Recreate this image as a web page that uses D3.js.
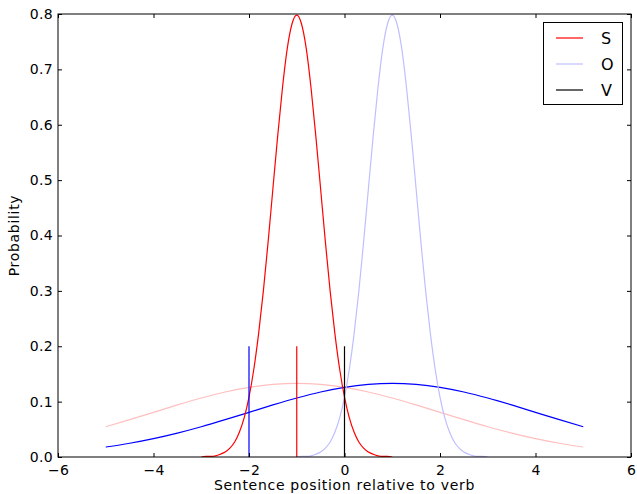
<!DOCTYPE html>
<html>
<head>
<meta charset="utf-8">
<script src="https://cdn.jsdelivr.net/npm/d3@7"></script>
<style>
  body { margin: 0; background: #fff; }
  text { font-family: "DejaVu Sans", sans-serif; fill: #000; }
</style>
</head>
<body>
<script>
// narrow curves (sampled every 0.1 around their peak)
const narrowS_x = d3.range(41).map(i => -3 + i * 0.1);
const narrowS_y = [0.000, 0.001, 0.001, 0.002, 0.005, 0.009, 0.016, 0.027, 0.045, 0.071,
  0.108, 0.158, 0.222, 0.299, 0.388, 0.484, 0.579, 0.666, 0.737, 0.782,
  0.798,
  0.782, 0.737, 0.666, 0.579, 0.484, 0.388, 0.299, 0.222, 0.158, 0.108,
  0.071, 0.045, 0.027, 0.016, 0.009, 0.005, 0.002, 0.001, 0.001, 0.000];
const narrowO_x = d3.range(41).map(i => -1 + i * 0.1);
const narrowO_y = [0.000, 0.001, 0.001, 0.002, 0.005, 0.009, 0.016, 0.027, 0.045, 0.071,
  0.108, 0.158, 0.222, 0.299, 0.388, 0.484, 0.579, 0.666, 0.737, 0.782,
  0.798,
  0.782, 0.737, 0.666, 0.579, 0.484, 0.388, 0.299, 0.222, 0.158, 0.108,
  0.071, 0.045, 0.027, 0.016, 0.009, 0.005, 0.002, 0.001, 0.001, 0.000];

// wide curves, x from -5 to 5 by 0.5
const wide_x = d3.range(21).map(i => -5 + i * 0.5);
const widePink_y = [0.0547, 0.0674, 0.0807, 0.0940, 0.1065, 0.1174, 0.1258, 0.1311, 0.1330, 0.1311,
  0.1258, 0.1174, 0.1065, 0.0940, 0.0807, 0.0674, 0.0547, 0.0432, 0.0332, 0.0248, 0.0180];
const wideBlue_y = [0.0180, 0.0248, 0.0332, 0.0432, 0.0547, 0.0674, 0.0807, 0.0940, 0.1065, 0.1174,
  0.1258, 0.1311, 0.1330, 0.1311, 0.1258, 0.1174, 0.1065, 0.0940, 0.0807, 0.0674, 0.0547];

// vertical markers
const markers = [
  { x: -2, h: 0.2, color: "#0000ff" },
  { x: -1, h: 0.2, color: "#ff0000" },
  { x: 0, h: 0.2, color: "#000000" }
];

const legendLabels = ["S", "O", "V"];
const legendColors = ["#ff0000", "#bfbfff", "#000000"];
const xTicks = [-6, -4, -2, 0, 2, 4, 6];
const yTicks = [0, 0.1, 0.2, 0.3, 0.4, 0.5, 0.6, 0.7, 0.8];

const W = 637, H = 494;
const pL = 58, pR = 631, pT = 14, pB = 457;

const svg = d3.select("body").append("svg")
  .attr("width", W).attr("height", H);

const x = d3.scaleLinear().domain([-6, 6]).range([pL, pR]);
const y = d3.scaleLinear().domain([0, 0.8]).range([pB, pT]);

svg.append("defs").append("clipPath").attr("id", "clip")
  .append("rect").attr("x", pL).attr("y", pT)
  .attr("width", pR - pL).attr("height", pB - pT);

const plot = svg.append("g").attr("clip-path", "url(#clip)");
const line = d3.line().x(d => x(d[0])).y(d => y(d[1])).curve(d3.curveMonotoneX);

function drawCurve(xs, ys, color, w) {
  plot.append("path")
    .datum(xs.map((v, i) => [v, ys[i]]))
    .attr("d", line)
    .attr("fill", "none")
    .attr("stroke", color)
    .attr("stroke-width", w);
}

drawCurve(wide_x, widePink_y, "#ffbfbf", 1.2);
drawCurve(wide_x, wideBlue_y, "#0000ff", 1.2);
drawCurve(narrowS_x, narrowS_y, "#ff0000", 1.2);
drawCurve(narrowO_x, narrowO_y, "#bfbfff", 1.2);

plot.selectAll(".marker")
  .data(markers)
  .enter()
  .append("line")
  .attr("x1", d => x(d.x)).attr("x2", d => x(d.x))
  .attr("y1", y(0)).attr("y2", d => y(d.h))
  .attr("stroke", d => d.color)
  .attr("stroke-width", 1.2);

// axes: ticks inside on all four sides
const tickLen = 4;
const axisColor = "#000";
svg.append("g").attr("transform", `translate(0,${pB})`)
  .call(d3.axisBottom(x).tickValues(xTicks).tickSizeInner(-tickLen).tickSizeOuter(0)
    .tickPadding(8).tickFormat(d3.format("d")))
  .call(g => g.select(".domain").remove());
svg.append("g").attr("transform", `translate(0,${pT})`)
  .call(d3.axisTop(x).tickValues(xTicks).tickSizeInner(-tickLen).tickSizeOuter(0).tickFormat(""))
  .call(g => g.select(".domain").remove());
svg.append("g").attr("transform", `translate(${pL},0)`)
  .call(d3.axisLeft(y).tickValues(yTicks).tickSizeInner(-tickLen).tickSizeOuter(0)
    .tickPadding(5).tickFormat(d3.format(".1f")))
  .call(g => g.select(".domain").remove());
svg.append("g").attr("transform", `translate(${pR},0)`)
  .call(d3.axisRight(y).tickValues(yTicks).tickSizeInner(-tickLen).tickSizeOuter(0).tickFormat(""))
  .call(g => g.select(".domain").remove());

svg.selectAll(".tick line").attr("stroke", axisColor);
svg.selectAll(".tick text")
  .style("font-family", "'DejaVu Sans', sans-serif")
  .style("font-size", "14px")
  .style("letter-spacing", "0.3px")
  .attr("fill", "#000");

svg.append("rect")
  .attr("x", pL).attr("y", pT)
  .attr("width", pR - pL).attr("height", pB - pT)
  .attr("fill", "none").attr("stroke", axisColor).attr("stroke-width", 1);

svg.append("text")
  .attr("x", (pL + pR) / 2).attr("y", 490)
  .attr("text-anchor", "middle")
  .style("font-size", "14px")
  .style("letter-spacing", "0.7px")
  .text("Sentence position relative to verb");

svg.append("text")
  .attr("transform", `translate(19,${(pT + pB) / 2}) rotate(-90)`)
  .attr("text-anchor", "middle")
  .style("font-size", "14px")
  .style("letter-spacing", "0.7px")
  .text("Probability");

// legend
const lg = svg.append("g");
lg.append("rect")
  .attr("x", 543.5).attr("y", 22.5).attr("width", 79).attr("height", 82)
  .attr("fill", "#fff").attr("stroke", "#000").attr("stroke-width", 1);
const rows = lg.selectAll(".row")
  .data(legendLabels)
  .enter()
  .append("g")
  .attr("transform", (d, i) => `translate(0,${38 + i * 26})`);
rows.append("line")
  .attr("x1", 556).attr("x2", 583).attr("y1", 0).attr("y2", 0)
  .attr("stroke", (d, i) => legendColors[i]).attr("stroke-width", 1.2);
rows.append("text")
  .attr("x", 601).attr("y", 6)
  .style("font-size", "16px")
  .text(d => d);
</script>
</body>
</html>
